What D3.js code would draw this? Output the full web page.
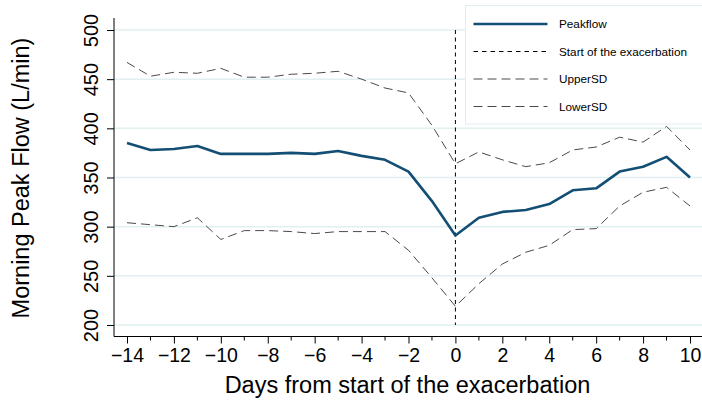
<!DOCTYPE html>
<html>
<head>
<meta charset="utf-8">
<script src="https://cdn.jsdelivr.net/npm/d3@7"></script>
<style>
  body { margin: 0; background: #fff; }
  svg { display: block; font-family: "Liberation Sans", Arial, sans-serif; }
</style>
</head>
<body>
<div id="draw"></div>
<script>
let days = d3.range(-14, 11);
let peakflow = [385, 378, 379, 382, 374, 374, 374, 375, 374, 377, 372, 368, 356, 326, 291, 309, 315, 317, 323, 337, 339, 356, 361, 371, 350];
let upperSD = [467, 453, 457, 456, 461, 452, 452, 455, 456, 458, 450, 441, 436, 403, 364, 376, 368, 361, 365, 378, 381, 391, 386, 402, 378];
let lowerSD = [304, 302, 300, 309, 287, 296, 296, 295, 293, 295, 295, 295, 276, 248, 219, 242, 262, 274, 281, 297, 298, 321, 335, 340, 321];
let yTicks = [200, 250, 300, 350, 400, 450, 500];
let xTicks = [-14, -12, -10, -8, -6, -4, -2, 0, 2, 4, 6, 8, 10];
let legendLabels = ['Peakflow', 'Start of the exacerbation', 'UpperSD', 'LowerSD'];

let W = 702, H = 400;
let svg = d3.select('#draw').append('svg').attr('width', W).attr('height', H);

let x = d3.scaleLinear().domain([-14, 10]).range([127, 690]);
let y = d3.scaleLinear().domain([200, 500]).range([325, 30]);
let axisX = 114, axisY = 336.5;

// gridlines
svg.append('g').selectAll('line').data(yTicks).enter().append('line')
  .attr('x1', axisX).attr('x2', W)
  .attr('y1', d => y(d)).attr('y2', d => y(d))
  .attr('stroke', '#e1eff1').attr('stroke-width', 1.5);

// y axis
let gy = svg.append('g').attr('transform', 'translate(' + axisX + ',0)')
  .call(d3.axisLeft(y).tickValues(yTicks).tickSize(7).tickPadding(4));
gy.select('.domain').remove();
gy.append('line').attr('x1', 0).attr('x2', 0).attr('y1', 18).attr('y2', axisY).attr('stroke', '#000');
gy.selectAll('.tick line').attr('stroke', '#000');
gy.selectAll('.tick text')
  .attr('font-size', 20).attr('fill', '#000')
  .attr('transform', 'rotate(-90,-16.5,0)')
  .attr('x', -16.5).attr('dy', 0)
  .attr('text-anchor', 'middle')
  .attr('font-family', '"Liberation Sans", Arial, sans-serif');

// x axis
let gx = svg.append('g').attr('transform', 'translate(0,' + axisY + ')')
  .call(d3.axisBottom(x).tickValues(xTicks).tickSize(7).tickPadding(5)
    .tickFormat(d => d < 0 ? '\u2212' + Math.abs(d) : d));
gx.select('.domain').remove();
gx.append('line').attr('x1', axisX).attr('x2', W).attr('stroke', '#000');
gx.selectAll('.tick line').attr('stroke', '#000');
gx.selectAll('.tick text').attr('font-size', 19.5).attr('fill', '#000')
  .attr('font-family', '"Liberation Sans", Arial, sans-serif');
// minor ticks
svg.append('g').selectAll('line').data(d3.range(-13, 10, 2)).enter().append('line')
  .attr('x1', d => x(d)).attr('x2', d => x(d))
  .attr('y1', axisY).attr('y2', axisY + 4)
  .attr('stroke', '#000');

// axis titles
svg.append('text').attr('x', 407.5).attr('y', 393)
  .attr('text-anchor', 'middle').attr('font-size', 23.5)
  .text('Days from start of the exacerbation');
svg.append('text').attr('transform', 'translate(29,178) rotate(-90)')
  .attr('text-anchor', 'middle').attr('font-size', 23.5)
  .text('Morning Peak Flow (L/min)');

// vertical line at day 0
svg.append('line')
  .attr('x1', x(0)).attr('x2', x(0)).attr('y1', y(500)).attr('y2', y(200))
  .attr('stroke', '#000').attr('stroke-width', 1).attr('stroke-dasharray', '4,3.5');

let line = d3.line().x((d, i) => x(days[i])).y(d => y(d));

svg.append('path').datum(upperSD).attr('d', line)
  .attr('fill', 'none').attr('stroke', '#4a4a4a').attr('stroke-width', 1)
  .attr('stroke-dasharray', '9,5');
svg.append('path').datum(lowerSD).attr('d', line)
  .attr('fill', 'none').attr('stroke', '#4a4a4a').attr('stroke-width', 1)
  .attr('stroke-dasharray', '9,5');
svg.append('path').datum(peakflow).attr('d', line)
  .attr('fill', 'none').attr('stroke', '#134e74').attr('stroke-width', 2.6)
  .attr('stroke-linejoin', 'round');

// legend
let lg = svg.append('g');
lg.append('rect').attr('x', 465.5).attr('y', 5.5).attr('width', 240).attr('height', 118.5)
  .attr('fill', '#fff').attr('stroke', '#dfeef0').attr('stroke-width', 1);
let lstyles = [
  {stroke: '#134e74', width: 2.6, dash: null},
  {stroke: '#000', width: 1, dash: '4.5,4'},
  {stroke: '#4a4a4a', width: 1, dash: '9,5'},
  {stroke: '#4a4a4a', width: 1, dash: '9,5'}
];
legendLabels.forEach(function(lab, i) {
  let yy = 24 + i * 27.5;
  let s = lstyles[i];
  let l = lg.append('line').attr('x1', 473.5).attr('x2', 547.5).attr('y1', yy).attr('y2', yy)
    .attr('stroke', s.stroke).attr('stroke-width', s.width);
  if (s.dash) l.attr('stroke-dasharray', s.dash);
  lg.append('text').attr('x', 559).attr('y', yy + 4.2).attr('font-size', 11.75).text(lab);
});
</script>
</body>
</html>
